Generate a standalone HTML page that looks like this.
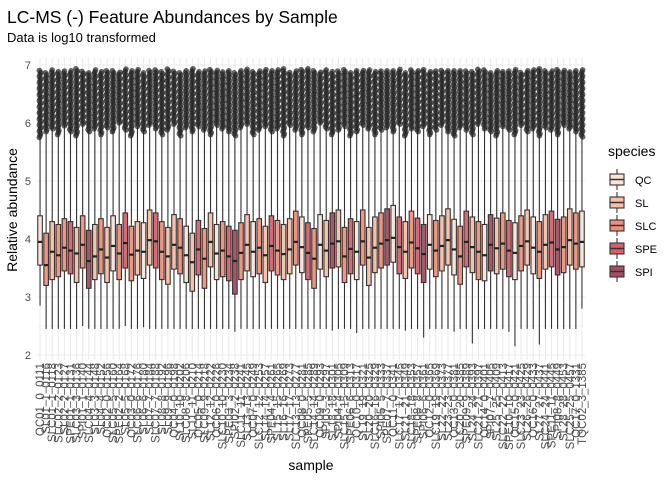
<!DOCTYPE html>
<html><head><meta charset="utf-8"><style>
body{margin:0;background:#fff;font-family:"Liberation Sans",sans-serif}
svg{display:block}
</style></head><body>
<svg id="chart" width="672" height="480" viewBox="0 0 672 480">
<text x="7" y="23" font-size="17.5" fill="#000">LC-MS (-) Feature Abundances by Sample</text>
<text x="7" y="42" font-size="13" fill="#000">Data is log10 transformed</text>
<text transform="translate(17,210) rotate(-90)" text-anchor="middle" font-size="14" fill="#000">Relative abundance</text>
<text x="311" y="470" text-anchor="middle" font-size="14" fill="#000">sample</text>
<g id="grid"></g>
<g id="marks"></g>
<g id="yaxis"></g>
<g id="xaxis"></g>
<g id="legend"></g>
</svg>
<script>
const speciesNames=["QC","SL","SLC","SPE","SPI"];
const speciesColors=["#fbe4d8","#f8bfa5","#f28f79","#d9606a","#a64e60"];
const speciesSeq="021223124121023210132112013210234210213211203201412302112403123402110231204123021021342120";
const medians=[3.95,3.55,3.78,3.72,3.85,3.80,3.75,3.90,3.62,3.70,3.82,3.68,3.88,3.75,3.93,3.73,3.80,3.78,3.98,3.96,
3.78,3.70,3.90,3.85,3.72,3.60,3.82,3.66,3.95,3.75,3.80,3.70,3.62,3.76,3.90,3.78,3.85,3.72,3.88,3.80,
3.74,3.82,3.95,3.86,3.76,3.66,3.90,3.80,3.92,3.96,3.70,3.83,3.78,3.96,3.68,3.85,3.92,3.98,4.02,3.86,
3.78,3.94,3.84,3.74,3.90,3.80,3.88,3.98,3.82,3.70,3.95,3.86,3.78,3.72,3.90,3.84,3.92,3.80,3.76,3.88,
3.96,3.85,3.78,3.90,3.94,3.82,3.86,3.98,3.92,3.95];
const q1=[3.55,3.20,3.30,3.35,3.45,3.40,3.25,3.50,3.15,3.30,3.40,3.25,3.45,3.30,3.50,3.28,3.38,3.32,3.55,3.50,
3.30,3.22,3.48,3.40,3.25,3.10,3.38,3.15,3.52,3.30,3.35,3.28,3.05,3.30,3.45,3.35,3.40,3.25,3.45,3.38,
3.30,3.40,3.55,3.42,3.30,3.15,3.48,3.35,3.50,3.52,3.25,3.40,3.30,3.55,3.20,3.42,3.50,3.55,3.60,3.40,
3.32,3.50,3.40,3.25,3.48,3.35,3.45,3.55,3.38,3.22,3.52,3.42,3.30,3.28,3.45,3.40,3.48,3.35,3.30,3.45,
3.55,3.40,3.32,3.48,3.52,3.38,3.42,3.55,3.48,3.52];
const q3=[4.40,4.10,4.30,4.25,4.35,4.30,4.20,4.40,4.15,4.25,4.35,4.20,4.40,4.25,4.45,4.22,4.30,4.28,4.50,4.45,
4.30,4.20,4.42,4.35,4.22,4.10,4.32,4.18,4.45,4.25,4.30,4.22,4.15,4.28,4.42,4.30,4.35,4.22,4.40,4.32,
4.25,4.35,4.48,4.38,4.28,4.18,4.42,4.32,4.45,4.50,4.20,4.35,4.30,4.50,4.20,4.38,4.45,4.52,4.58,4.38,
4.30,4.48,4.36,4.25,4.42,4.32,4.40,4.52,4.34,4.22,4.48,4.38,4.30,4.25,4.42,4.36,4.45,4.32,4.28,4.40,
4.50,4.38,4.30,4.42,4.48,4.34,4.38,4.52,4.45,4.48];
const lowWhisker=[2.85,2.45,2.45,2.45,2.45,2.45,2.45,2.50,2.45,2.45,2.45,2.45,2.45,2.45,2.50,2.45,2.45,2.48,2.45,2.45,
2.45,2.45,2.45,2.45,2.45,2.45,2.45,2.45,2.45,2.45,2.45,2.45,2.40,2.45,2.45,2.45,2.45,2.45,2.45,2.45,
2.45,2.45,2.45,2.45,2.45,2.45,2.45,2.45,2.42,2.45,2.45,2.45,2.38,2.45,2.45,2.45,2.45,2.45,2.45,2.45,
2.42,2.45,2.45,2.30,2.45,2.45,2.45,2.45,2.40,2.45,2.45,2.20,2.45,2.45,2.45,2.45,2.45,2.40,2.15,2.45,
2.45,2.45,2.18,2.45,2.45,2.45,2.45,2.45,2.45,2.80];
const highWhisker=[5.75,5.85,5.90,5.80,5.95,5.85,5.78,5.98,5.85,5.90,5.80,5.92,5.85,6.00,5.88,5.78,5.94,5.85,5.96,5.90,
5.80,5.88,5.98,5.78,5.92,5.85,5.94,5.88,5.80,5.96,5.90,5.85,5.78,5.92,5.98,5.80,5.88,5.94,5.85,5.90,
5.78,5.96,5.88,5.80,5.92,5.85,6.00,5.90,5.80,5.88,5.94,5.78,5.85,5.96,5.90,5.80,5.88,5.92,5.85,5.98,
5.78,5.90,5.85,5.94,5.80,5.88,5.96,5.85,5.78,5.92,5.88,5.80,5.98,5.90,5.85,5.78,5.94,5.88,5.80,5.96,
5.85,5.90,5.78,5.92,5.88,5.80,5.96,5.90,5.85,5.76];
const outlierTop=[6.92,6.90,6.94,6.92,6.90,6.93,6.95,6.92,6.90,6.94,6.92,6.91,6.93,6.90,6.95,6.92,6.94,6.90,6.92,6.93,
6.91,6.94,6.92,6.90,6.93,6.95,6.92,6.90,6.94,6.92,6.91,6.93,6.90,6.92,6.94,6.92,6.90,6.93,6.91,6.92,
6.94,6.90,6.92,6.93,6.95,6.92,6.90,6.94,6.92,6.91,6.93,6.90,6.92,6.94,6.92,6.90,6.93,6.91,6.92,6.94,
6.90,6.92,6.93,6.95,6.92,6.90,6.94,6.92,6.91,6.93,6.90,6.92,6.94,6.92,6.90,6.93,6.91,6.92,6.94,6.90,
6.92,6.93,6.95,6.92,6.90,6.94,6.92,6.91,6.93,6.92];
const sampleLabels=["QC01_0_0111","SL01_1_0116","SLC01_1_0118","SLC02_2_0123","SL02_2_0127","SPE01_1_0131","SLC03_3_0136","SPI01_1_0140","SLC04_4_0144","SL03_3_0148",
"SL04_4_0152","QC02_0_0156","SLC05_5_0160","SPE02_2_0164","SL05_5_0168","QC03_0_0172","SLC06_6_0176","SL06_6_0180","SL07_7_0184","SLC07_7_0188",
"SL08_8_0192","SL09_9_0196","QC04_0_0198","SL10_10_0202","SLC08_8_0206","SL11_11_0210","QC05_0_0214","SLC09_9_0218","SL12_12_0222","QC06_0_0226",
"SLC10_10_0230","SPE03_3_0234","SPI02_2_0238","SLC11_11_0241","SL13_13_0245","QC07_0_0249","SLC12_12_0253","SL14_14_0257","SPE04_4_0261","SL15_15_0265",
"SL16_16_0269","SL17_17_0273","SLC13_13_0277","QC08_0_0281","SPE05_5_0285","SLC14_14_0289","QC09_0_0293","SPI03_3_0297","SL18_18_0301","SPI04_4_0305",
"SLC15_15_0309","SPE06_6_0313","QC10_0_0317","SL19_19_0321","SL20_20_0325","SLC16_16_0329","SPI05_5_0333","SPE07_7_0337","QC11_0_0341","SLC17_17_0345",
"SL21_21_0349","SLC18_18_0353","SPE08_8_0357","SPI06_6_0361","QC12_0_0365","SLC19_19_0369","SL22_22_0373","SL23_23_0377","QC13_0_0381","SLC20_20_0385",
"SPE09_9_0389","SL24_24_0393","SLC21_21_0397","QC14_0_0401","SPI07_7_0405","SL25_25_0409","SLC22_22_0413","SPE10_10_0417","QC15_0_0421","SLC23_23_0425",
"SL26_26_0429","QC16_0_0433","SL27_27_0437","SLC24_24_0441","SPE11_11_0445","SPI08_8_0449","SL28_28_0453","SLC25_25_0457","QC17_0_1331","TQC02_3_1385"];
const yTicks=[2,3,4,5,6,7];

const NS="http://www.w3.org/2000/svg";
const PL=37,PR=585,PT=58,PB=360;
function yScale(v){return 355-(v-2)*58;}
const bw=(PR-PL)/medians.length;
function xScale(i){return PL+bw*(i+0.5);}
function mk(tag,attrs,parent){const e=document.createElementNS(NS,tag);for(const k in attrs)e.setAttribute(k,attrs[k]);parent.appendChild(e);return e;}
const grid=document.getElementById('grid'),marks=document.getElementById('marks'),yaxis=document.getElementById('yaxis'),xaxis=document.getElementById('xaxis'),legend=document.getElementById('legend');

for(let v=2;v<=7;v+=0.5){
  const l=mk('line',{x1:PL,x2:PR,y1:yScale(v),y2:yScale(v),stroke:'#ebebeb','stroke-width':(v%1===0)?1.1:0.5},grid);
  
  
}
medians.forEach((m,i)=>{
  const l=mk('line',{x1:xScale(i),x2:xScale(i),y1:PT,y2:PB,stroke:'#ebebeb','stroke-width':1.1},grid);
  
  
});
yTicks.forEach(t=>{
  const tx=mk('text',{x:31,y:yScale(t)+4,'text-anchor':'end','font-size':11,fill:'#4d4d4d'},yaxis);
  tx.textContent=t;
  
  
});
medians.forEach((m,i)=>{
  const x=xScale(i),w=bw*0.75,col=speciesColors[+speciesSeq[i]];
  const g=mk('g',{},marks);
  
  
  mk('line',{x1:x,x2:x,y1:yScale(lowWhisker[i]),y2:yScale(q1[i]),stroke:'#333','stroke-width':1.1},g);
  mk('line',{x1:x,x2:x,y1:yScale(q3[i]),y2:yScale(highWhisker[i]),stroke:'#333','stroke-width':1.1},g);
  mk('rect',{x:x-w/2,y:yScale(q3[i]),width:w,height:yScale(q1[i])-yScale(q3[i]),fill:col,stroke:'#333','stroke-width':1.1,'fill-opacity':0.95},g);
  mk('line',{x1:x-w/2,x2:x+w/2,y1:yScale(m),y2:yScale(m),stroke:'#222','stroke-width':2.2},g);
  let k=0;
  for(let v=highWhisker[i];v<=outlierTop[i];v+=0.035){
    const off=((i+k)%3-1)*0.7;
    mk('circle',{cx:x+off,cy:yScale(v),r:2.8,fill:'#222','fill-opacity':0.7},g);
    k++;
  }
  const tx=mk('text',{transform:`translate(${x+4},${PB+3}) rotate(-90)`,'text-anchor':'end','font-size':11.5,fill:'#4d4d4d'},xaxis);
  tx.textContent=sampleLabels[i];
  
  
});
const lt=mk('text',{x:608,y:156,'font-size':14,fill:'#000'},legend);
lt.textContent='species';


speciesNames.forEach((s,k)=>{
  const y=171+k*23;
  const g=mk('g',{},legend);
  
  
  mk('line',{x1:617,x2:617,y1:y-2,y2:y+19,stroke:'#333','stroke-width':1.1},g);
  mk('rect',{x:610,y:y+3,width:14,height:11,fill:speciesColors[k],stroke:'#333','stroke-width':1.1},g);
  mk('line',{x1:610,x2:624,y1:y+8.5,y2:y+8.5,stroke:'#333','stroke-width':1.5},g);
  const t=mk('text',{x:635,y:y+13,'font-size':11,fill:'#000'},g);
  t.textContent=s;
});
</script>
</body></html>
